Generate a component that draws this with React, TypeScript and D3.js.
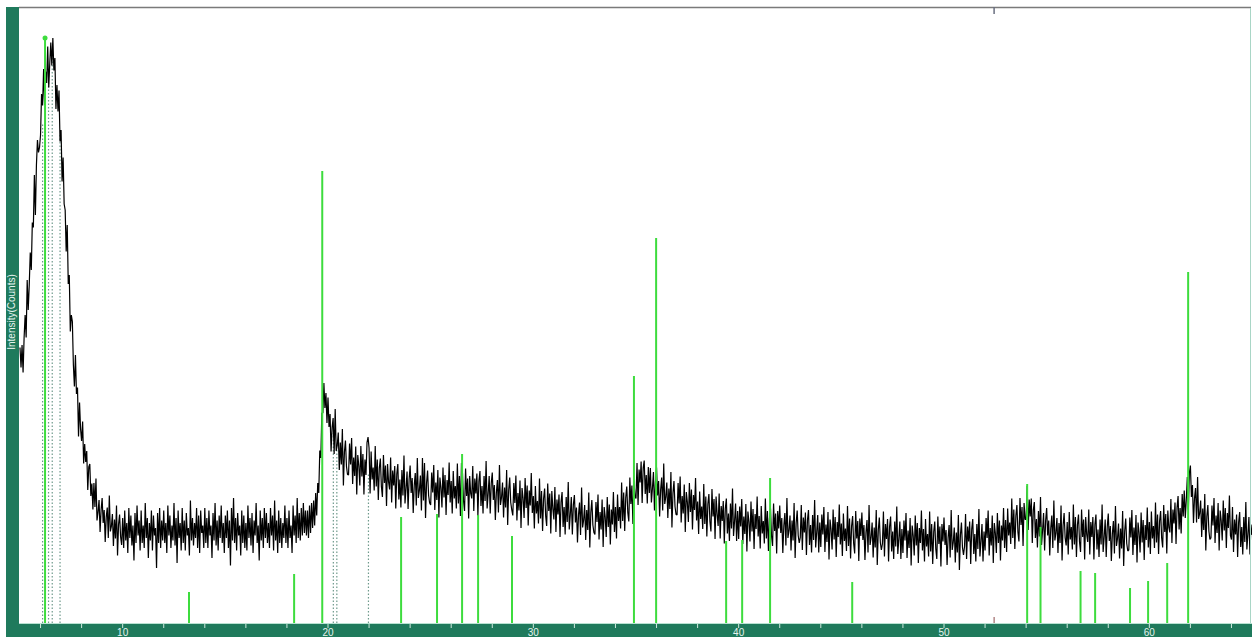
import React from 'react';
import * as d3 from 'd3';

const width = 1252;
const height = 637;

// scan: 5.00 .. 65.00 deg 2theta, step 0.05 (one row per degree)
const startAngle = 5;
const stepSize = 0.05;
const counts = [
  551, 511, 556, 501, 571, 616, 571, 686, 626, 676, 741, 706, 801, 791, 896, 816, 916, 966, 941, 951,
  976, 1058, 1035, 1108, 1036, 1103, 1080, 1153, 1071, 1120, 1161, 1115, 1170, 1105, 1130, 1028, 1076, 1023, 1065, 963,
  986, 883, 931, 838, 826, 743, 796, 678, 696, 583, 616, 603, 516, 473, 536, 458, 471, 373, 441, 388,
  364, 403, 319, 358, 322, 344, 266, 312, 318, 254, 279, 227, 280, 232, 289, 205, 222, 246, 182, 226,
  250, 200, 226, 162, 212, 231, 170, 255, 183, 193, 218, 154, 207, 169, 235, 135, 197, 217, 172, 156,
  210, 150, 225, 165, 200, 140, 230, 170, 215, 155, 195, 125, 220, 160, 235, 175, 205, 145, 225, 160,
  195, 150, 240, 170, 210, 130, 200, 165, 225, 145, 215, 175, 190, 110, 220, 160, 230, 150, 205, 165,
  225, 160, 200, 140, 235, 175, 215, 150, 195, 165, 240, 155, 210, 120, 225, 170, 200, 145, 230, 160,
  205, 145, 220, 175, 190, 135, 245, 165, 210, 155, 200, 170, 230, 150, 215, 140, 225, 180, 195, 150,
  230, 160, 210, 150, 225, 175, 195, 130, 220, 165, 240, 155, 205, 145, 215, 170, 235, 160, 200, 140,
  215, 170, 225, 150, 205, 115, 230, 165, 250, 160, 210, 145, 220, 175, 195, 135, 225, 160, 215, 150,
  200, 145, 235, 170, 210, 155, 220, 140, 205, 175, 240, 160, 195, 125, 225, 165, 210, 150, 230, 170,
  220, 160, 200, 150, 230, 175, 215, 145, 245, 165, 205, 140, 225, 160, 210, 150, 200, 170, 235, 160,
  210, 150, 225, 170, 195, 140, 235, 175, 215, 160, 250, 170, 220, 165, 230, 175, 240, 180, 225, 175,
  225, 170, 235, 180, 240, 190, 245, 195, 260, 215, 280, 260, 345, 330, 420, 420, 480, 430, 460, 400,
  451, 392, 418, 343, 391, 410, 338, 428, 344, 355, 381, 306, 361, 317, 388, 275, 342, 365, 313, 297,
  296, 359, 317, 370, 278, 331, 294, 353, 257, 336, 315, 275, 354, 293, 338, 257, 327, 296, 361, 372,
  350, 259, 343, 287, 311, 265, 354, 273, 327, 246, 310, 329, 273, 252, 336, 280, 315, 234, 318, 282,
  267, 331, 241, 305, 275, 314, 229, 298, 318, 247, 287, 231, 306, 255, 335, 239, 269, 303, 228, 287,
  315, 260, 290, 220, 275, 300, 235, 330, 250, 265, 295, 225, 330, 245, 320, 210, 280, 305, 255, 240,
  236, 301, 261, 316, 226, 281, 246, 306, 211, 291, 271, 231, 311, 251, 296, 216, 286, 256, 321, 241,
  284, 219, 304, 249, 274, 229, 319, 239, 294, 214, 320, 299, 244, 224, 309, 254, 289, 209, 294, 259,
  249, 314, 224, 289, 259, 299, 214, 284, 304, 234, 274, 219, 294, 244, 324, 229, 259, 294, 219, 279,
  301, 246, 276, 206, 261, 286, 221, 316, 236, 251, 281, 211, 271, 231, 306, 196, 266, 291, 241, 226,
  215, 280, 240, 295, 205, 260, 225, 285, 190, 270, 250, 210, 290, 230, 275, 195, 265, 235, 300, 220,
  254, 189, 274, 219, 244, 199, 289, 209, 264, 184, 249, 269, 214, 194, 279, 224, 259, 179, 264, 229,
  207, 272, 182, 247, 217, 257, 172, 242, 262, 192, 232, 177, 252, 202, 282, 187, 217, 252, 177, 237,
  256, 201, 231, 161, 216, 241, 176, 271, 191, 206, 236, 166, 226, 186, 261, 151, 221, 246, 196, 181,
  177, 242, 202, 257, 167, 222, 187, 247, 152, 232, 212, 172, 252, 192, 237, 157, 227, 197, 262, 182,
  232, 169, 257, 204, 232, 189, 281, 204, 261, 184, 251, 273, 221, 203, 291, 238, 275, 198, 285, 253,
  249, 320, 236, 307, 281, 323, 240, 310, 325, 258, 296, 239, 312, 260, 310, 241, 269, 302, 225, 283,
  311, 255, 284, 213, 267, 291, 225, 319, 238, 252, 281, 210, 269, 228, 302, 191, 260, 284, 233, 217,
  216, 280, 239, 293, 201, 254, 219, 277, 182, 262, 242, 202, 280, 222, 267, 187, 256, 226, 290, 205,
  243, 178, 263, 208, 233, 188, 278, 198, 253, 173, 238, 258, 203, 183, 268, 213, 248, 168, 253, 218,
  194, 259, 169, 234, 204, 244, 159, 229, 249, 179, 219, 164, 239, 189, 269, 174, 204, 239, 164, 224,
  168, 233, 193, 248, 158, 213, 178, 238, 143, 223, 203, 163, 243, 183, 228, 148, 218, 188, 253, 173,
  214, 149, 234, 179, 204, 159, 249, 169, 224, 144, 209, 229, 174, 154, 239, 184, 219, 139, 224, 189,
  235, 180, 210, 140, 195, 220, 155, 250, 170, 185, 215, 145, 205, 165, 240, 130, 200, 225, 175, 160,
  171, 236, 146, 211, 181, 221, 136, 206, 226, 156, 196, 141, 216, 166, 246, 151, 181, 216, 141, 201,
  152, 217, 177, 232, 142, 197, 162, 222, 127, 207, 187, 147, 227, 167, 212, 132, 202, 172, 237, 157,
  199, 134, 219, 164, 189, 144, 234, 154, 209, 129, 194, 214, 159, 139, 224, 169, 204, 124, 209, 174,
  221, 166, 196, 126, 181, 206, 141, 236, 156, 171, 201, 131, 191, 151, 226, 116, 186, 211, 161, 146,
  158, 223, 133, 198, 168, 208, 123, 193, 213, 143, 183, 128, 203, 153, 233, 138, 168, 203, 128, 188,
  140, 205, 165, 220, 130, 185, 150, 210, 115, 195, 175, 135, 215, 155, 200, 120, 190, 160, 225, 145,
  188, 123, 208, 153, 178, 133, 223, 143, 198, 118, 183, 203, 148, 128, 213, 158, 193, 113, 198, 163,
  211, 156, 186, 116, 171, 196, 131, 226, 146, 161, 191, 121, 181, 141, 216, 106, 176, 201, 151, 136,
  153, 218, 128, 193, 163, 203, 118, 188, 208, 138, 178, 123, 198, 148, 228, 133, 163, 198, 123, 183,
  145, 210, 170, 225, 135, 190, 155, 215, 120, 200, 180, 140, 220, 160, 205, 125, 195, 165, 230, 150,
  206, 142, 229, 175, 201, 158, 249, 170, 227, 148, 214, 236, 182, 163, 250, 196, 232, 154, 240, 207,
  207, 274, 186, 247, 213, 249, 160, 226, 242, 170, 208, 151, 224, 173, 252, 156, 185, 220, 145, 205,
  230, 175, 205, 135, 190, 215, 150, 245, 165, 180, 210, 140, 200, 160, 235, 125, 195, 220, 170, 155,
  202, 137, 222, 167, 192, 147, 237, 157, 212, 132, 197, 217, 162, 142, 227, 172, 207, 127, 212, 177,
  162, 227, 137, 202, 172, 212, 127, 197, 217, 147, 187, 132, 207, 157, 237, 142, 172, 207, 132, 192,
  219, 164, 194, 124, 179, 204, 139, 234, 154, 169, 199, 129, 189, 149, 224, 114, 184, 209, 159, 144,
  146, 211, 171, 226, 136, 191, 156, 216, 121, 201, 181, 141, 221, 161, 206, 126, 196, 166, 231, 151,
  202, 138, 223, 169, 194, 150, 241, 161, 217, 138, 204, 224, 170, 151, 236, 182, 218, 139, 225, 191,
  181, 248, 160, 227, 199, 241, 158, 231, 254, 187, 230, 179, 258, 213, 265, 210, 247, 292, 227, 300,
  315, 252, 276, 200, 250, 270, 201, 292, 208, 219, 245, 172, 229, 186, 258, 145, 213, 236, 184, 167,
  170, 235, 195, 250, 160, 215, 180, 240, 145, 225, 205, 165, 245, 185, 230, 150, 220, 190, 255, 175,
  167, 232, 142, 207, 177, 217, 132, 202, 222, 152, 192, 137, 212, 162, 242, 147, 177, 212, 137, 197,
  176,
];

// reference pattern sticks (2theta, counts)
const stickAngles = [6.22, 13.23, 18.35, 19.72, 23.56, 25.31, 26.53, 27.31, 28.96, 34.9, 35.98, 39.39, 40.17, 41.53, 45.53, 54.05, 54.7, 56.65, 57.36, 59.06, 59.94, 60.87, 61.89];
const stickCounts = [1170, 62, 98, 904, 212, 218, 338, 216, 174, 494, 770, 164, 166, 290, 82, 278, 192, 104, 100, 70, 84, 120, 702];

// dotted peak markers
const markAngles = [6.1, 6.39, 6.57, 6.95, 20.26, 20.43, 21.97];
const markCounts = [1000, 1100, 1130, 980, 380, 350, 300];

const minorTicks = d3.range(6, 65, 2);
const tickLabels = [10, 20, 30, 40, 50, 60];
const cursorAngle = 52.44;

const band = '#1f7a5c';

const App = () => {
  const x = d3.scaleLinear().domain([5, 65]).range([20, 1252]);
  const y = d3.scaleLinear().domain([0, 1232]).range([623, 7]);

  const pts = counts.map((c, i) => [startAngle + i * stepSize, c] as [number, number]);
  const line = d3.line<[number, number]>()
    .x(d => x(d[0]))
    .y(d => y(d[1]));

  return (
    <svg width={width} height={height} style={{ position: 'absolute', left: 0, top: 0, display: 'block' }}
      fontFamily="Liberation Sans, Arial, sans-serif">
      <rect x={0} y={0} width={width} height={height} fill="#fff" />

      {markAngles.map((a, i) => (
        <line key={'m' + i} x1={x(a)} x2={x(a)} y1={y(0)} y2={y(markCounts[i])}
          stroke="#6f9a8c" strokeWidth={1.2} strokeDasharray="1.5,2" />
      ))}

      <path d={line(pts) || ''} fill="none" stroke="#000" strokeWidth={1.2} strokeLinejoin="bevel" />

      {stickAngles.map((a, i) => (
        <line key={'s' + i} x1={x(a)} x2={x(a)} y1={y(0)} y2={y(stickCounts[i])}
          stroke="#3ddc3d" strokeWidth={2} />
      ))}
      <circle cx={x(stickAngles[0])} cy={y(stickCounts[0])} r={2.5} fill="#3ddc3d" />

      {/* frame */}
      <line x1={19} x2={1251} y1={7.5} y2={7.5} stroke="#7a7a7a" strokeWidth={1.5} />
      <line x1={1250.5} x2={1250.5} y1={8} y2={623} stroke="#a9d6c6" strokeWidth={1} />
      <line x1={x(cursorAngle)} x2={x(cursorAngle)} y1={7} y2={14} stroke="#6a6f80" strokeWidth={1.5} />
      <line x1={x(cursorAngle)} x2={x(cursorAngle)} y1={617} y2={623} stroke="#8a4a4a" strokeWidth={1} />

      <rect x={6} y={7} width={13} height={630} fill={band} />
      <rect x={6} y={623} width={1246} height={14} fill={band} />
      <line x1={19} x2={1252} y1={623.5} y2={623.5} stroke="#b8e2d2" strokeWidth={1} />

      {minorTicks.map(t => (
        <line key={'t' + t} x1={x(t)} x2={x(t)} y1={624} y2={628} stroke="#cfe8de" strokeWidth={1} />
      ))}
      {tickLabels.map(t => (
        <text key={'l' + t} x={x(t)} y={636} textAnchor="middle" fontSize={10} fill="#e6f3ee">{t}</text>
      ))}

      <text transform="translate(15,312) rotate(-90)" textAnchor="middle" fontSize={10} fill="#e6f3ee">
        Intensity(Counts)
      </text>
    </svg>
  );
};

export default App;
